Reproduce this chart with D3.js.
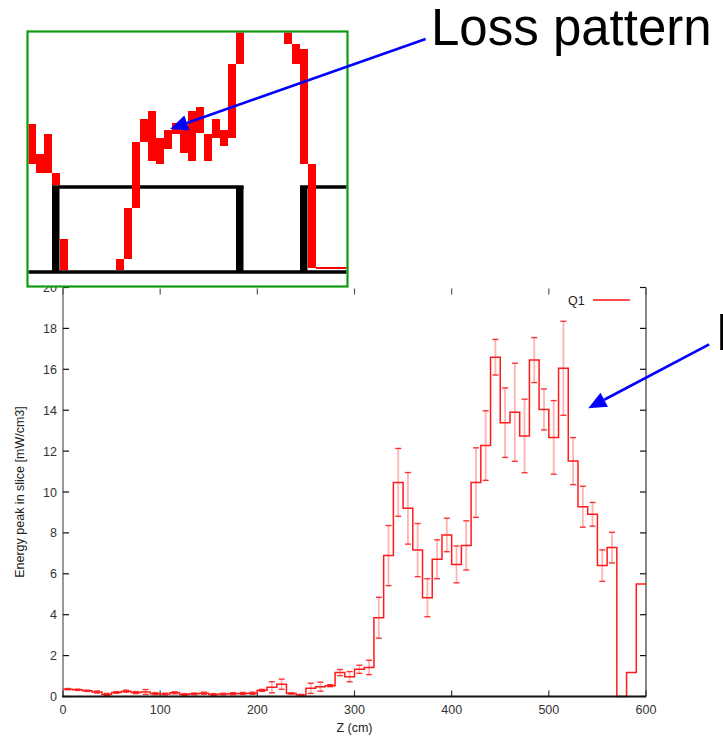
<!DOCTYPE html>
<html><head><meta charset="utf-8">
<script src="https://cdn.jsdelivr.net/npm/d3@7"></script>
<style>body{margin:0;background:#fff}svg{display:block}text{font-family:"Liberation Sans",Arial,Helvetica,sans-serif}</style>
</head><body>
<script>
// ---- main histogram data (Z in cm, bin start) ----
const binStart = [0,10,20,30,40,50,60,70,80,90,100,110,120,130,140,150,160,170,180,190,
  200,210,220,230,240,250,260,270,280,290,300,310,320,330,340,350,360,370,380,390,
  400,410,420,430,440,450,460,470,480,490,500,510,520,530,540,550,560,570,580,590];
const energy = [0.36,0.33,0.28,0.22,0.10,0.20,0.26,0.19,0.22,0.14,
  0.12,0.18,0.10,0.13,0.16,0.10,0.12,0.14,0.15,0.16,
  0.30,0.45,0.60,0.15,0.07,0.40,0.48,0.53,1.17,0.97,
  1.33,1.42,3.85,6.89,10.47,9.20,7.16,4.83,6.71,7.90,
  6.46,7.39,10.46,12.27,16.59,13.39,13.90,12.74,16.45,14.04,
  12.67,16.05,11.51,9.28,8.91,6.40,7.28,0.00,1.17,5.50];
const energyErr = [0.03,0.03,0.03,0.05,0.05,0.04,0.05,0.05,0.12,0.05,
  0.04,0.05,0.04,0.04,0.05,0.04,0.04,0.05,0.05,0.05,
  0.05,0.27,0.25,0.03,0.03,0.25,0.22,0.05,0.15,0.25,
  0.20,0.35,1.00,1.47,1.66,1.75,1.30,0.93,0.95,0.82,
  0.90,1.20,1.70,1.70,0.87,1.70,2.40,1.80,1.10,1.00,
  1.80,2.30,1.15,1.00,0.58,0.77,0.75,0,0,0];
const binWidth = 10;
const xTicks = [0,100,200,300,400,500,600];
const yTicks = [0,2,4,6,8,10,12,14,16,18,20];

// ---- inset (magnified loss pattern) data: column index, low level, high level ----
const insetCol = [0,1,2,3,4,11,12,13,14,15,16,17,18,19,20,21,22,23,24,25,26,32,33,34,35,36,37,38,39];
const insetLo  = [108,99,99,87,2,2,13,64,130,111,108,123,138,119,111,139,111,134,126,134,208,228,208,108,4,3,3,3,3];
const insetHi  = [148,118,138,99,33,13,64,130,153,161,134,142,149,142,161,165,138,153,142,208,240,240,228,223,108,5,5,5,5];
const apertureWalls = [3,26,34];
const apertureTops = [[3,27],[34,40]];
const apertureLevel = 86;

const W = 723, H = 737;
const svg = d3.select("body").append("svg").attr("width", W).attr("height", H);
svg.append("rect").attr("width", W).attr("height", H).attr("fill", "#fff");

const x = d3.scaleLinear().domain([0, 600]).range([63, 646]);
const y = d3.scaleLinear().domain([0, 20]).range([696.5, 287.5]);

// axes frame
const g = svg.append("g");
g.append("line").attr("x1", x(0)).attr("x2", x(0)).attr("y1", y(20)).attr("y2", y(0))
  .attr("stroke", "#999").attr("stroke-width", 2);
g.append("line").attr("x1", x(600)).attr("x2", x(600)).attr("y1", y(20)).attr("y2", y(0))
  .attr("stroke", "#888").attr("stroke-width", 2);

// y ticks left and right
yTicks.forEach(t => {
  g.append("line").attr("x1", x(0)).attr("x2", x(0) + 6).attr("y1", y(t)).attr("y2", y(t))
    .attr("stroke", "#111").attr("stroke-width", 1.2);
  g.append("line").attr("x1", x(600) - 6).attr("x2", x(600)).attr("y1", y(t)).attr("y2", y(t))
    .attr("stroke", "#111").attr("stroke-width", 1.2);
  g.append("text").attr("x", 57).attr("y", y(t)).attr("dy", "0.36em")
    .attr("text-anchor", "end").attr("font-size", 12.5).attr("fill", "#333").text(t);
});
// x ticks bottom and top
xTicks.forEach(t => {
  g.append("line").attr("x1", x(t)).attr("x2", x(t)).attr("y1", y(0)).attr("y2", y(0) - 6)
    .attr("stroke", "#333").attr("stroke-width", 1.2);
  g.append("line").attr("x1", x(t)).attr("x2", x(t)).attr("y1", y(20) + 1).attr("y2", y(20) + 7)
    .attr("stroke", "#555").attr("stroke-width", 1.2);
  g.append("text").attr("x", x(t)).attr("y", 714).attr("text-anchor", "middle")
    .attr("font-size", 12.5).attr("fill", "#333").text(t);
});

// axis labels
g.append("text").attr("transform", `translate(24,${(y(0) + y(20)) / 2}) rotate(-90)`)
  .attr("text-anchor", "middle").attr("font-size", 12.5).attr("fill", "#222")
  .text("Energy peak in slice [mW/cm3]");
g.append("text").attr("x", (x(0) + x(600)) / 2).attr("y", 732).attr("text-anchor", "middle")
  .attr("font-size", 12.5).attr("fill", "#222").text("Z (cm)");

// error bars
const bins = binStart.map((z, i) => ({z, v: energy[i], e: energyErr[i]}));
const eb = g.append("g");
bins.filter(d => d.e > 0).forEach(d => {
  const cx = x(d.z + binWidth / 2);
  eb.append("line").attr("x1", cx).attr("x2", cx).attr("y1", y(d.v - d.e)).attr("y2", y(d.v + d.e))
    .attr("stroke", "#ff0000").attr("stroke-opacity", 0.3).attr("stroke-width", 1.8);
  [d.v - d.e, d.v + d.e].forEach(vv => {
    eb.append("line").attr("x1", cx - 3).attr("x2", cx + 3).attr("y1", y(vv)).attr("y2", y(vv))
      .attr("stroke", "#ff1010").attr("stroke-opacity", 0.85).attr("stroke-width", 1.4);
  });
});

// step line
const stepPts = bins.map(d => [d.z, d.v]);
stepPts.push([600, energy[energy.length - 1]]);
const line = d3.line().x(d => x(d[0])).y(d => y(d[1])).curve(d3.curveStepAfter);
g.append("path").attr("d", line(stepPts)).attr("fill", "none")
  .attr("stroke", "#ff1a1a").attr("stroke-width", 1.5);

// bottom axis (drawn over)
g.append("line").attr("x1", x(0) - 1).attr("x2", x(600)).attr("y1", y(0)).attr("y2", y(0))
  .attr("stroke", "#111").attr("stroke-width", 2);

// legend
g.append("text").attr("x", 568).attr("y", 304.5).attr("font-size", 12.5).attr("fill", "#222").text("Q1");
g.append("line").attr("x1", 593).attr("x2", 630).attr("y1", 300).attr("y2", 300)
  .attr("stroke", "#ff4d4d").attr("stroke-width", 1.8);

// ---- inset ----
const ix = d3.scaleLinear().domain([0, 40]).range([28, 348]);
const iy = d3.scaleLinear().domain([0, 240]).range([272, 32]);
const ins = svg.append("g");
svg.append("defs").append("clipPath").attr("id", "insClip").append("rect")
  .attr("x", 28.5).attr("y", 32.5).attr("width", 318).attr("height", 253);
ins.append("rect").attr("x", 27.5).attr("y", 31.5).attr("width", 320).attr("height", 255)
  .attr("fill", "#fff");
const ic = ins.append("g").attr("clip-path", "url(#insClip)");
// aperture (black)
ic.append("line").attr("x1", ix(0)).attr("x2", ix(40)).attr("y1", iy(0)).attr("y2", iy(0))
  .attr("stroke", "#000").attr("stroke-width", 3.6);
apertureWalls.forEach(c => {
  ic.append("rect").attr("x", ix(c)).attr("width", ix(c + 1) - ix(c) - 0.5)
    .attr("y", iy(apertureLevel)).attr("height", iy(0) - iy(apertureLevel)).attr("fill", "#000");
});
apertureTops.forEach(([a, b]) => {
  ic.append("line").attr("x1", ix(a)).attr("x2", ix(b) - 0.5)
    .attr("y1", iy(apertureLevel - 1)).attr("y2", iy(apertureLevel - 1))
    .attr("stroke", "#000").attr("stroke-width", 3.6);
});
// loss pattern (red)
insetCol.forEach((c, i) => {
  ic.append("rect").attr("x", ix(c)).attr("width", ix(c + 1) - ix(c))
    .attr("y", iy(insetHi[i])).attr("height", iy(insetLo[i]) - iy(insetHi[i])).attr("fill", "#ff0000");
});
ins.append("rect").attr("x", 27.5).attr("y", 31.5).attr("width", 320).attr("height", 255)
  .attr("fill", "none").attr("stroke", "#109a10").attr("stroke-width", 2.2);

// ---- annotations ----
function arrow(x1, y1, x2, y2) {
  const dx = x1 - x2, dy = y1 - y2, L = Math.hypot(dx, dy);
  const ux = dx / L, uy = dy / L, len = 18, hw = 8;
  const bx = x2 + ux * len, by = y2 + uy * len;
  svg.append("line").attr("x1", x1).attr("y1", y1).attr("x2", bx).attr("y2", by)
    .attr("stroke", "#0000ff").attr("stroke-width", 2.6);
  svg.append("path").attr("d", `M${x2},${y2}L${bx - uy * hw},${by + ux * hw}L${bx + uy * hw},${by - ux * hw}Z`)
    .attr("fill", "#0000ff");
}
arrow(ix(49.7), iy(233), ix(17.75), iy(143));
arrow(x(665), y(17.22), x(540.6), y(14.1));

svg.append("text").attr("x", 431).attr("y", 45).attr("font-size", 51).attr("fill", "#000").text("Loss pattern");
svg.append("text").attr("x", 716).attr("y", 350).attr("font-size", 51).attr("fill", "#000").text("L");
</script>
</body></html>
